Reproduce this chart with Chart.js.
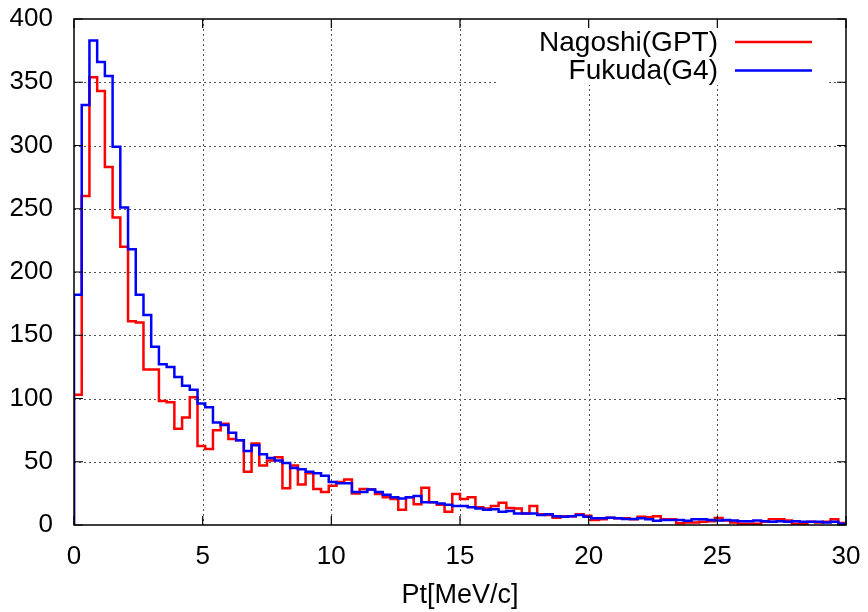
<!DOCTYPE html>
<html><head><meta charset="utf-8">
<script src="https://cdn.jsdelivr.net/npm/chart.js@4.4.1/dist/chart.umd.min.js"></script>
<style>html,body{margin:0;padding:0;background:#fff}#wrap{width:868px;height:612px;position:relative}</style>
</head><body><div id="wrap"><canvas id="c" width="868" height="612"></canvas></div>
<script>
// ---- data (histogram, bin width 0.3 MeV/c, bins start at 0) ----
const binWidth = 0.3;
const seriesNames = ['Nagoshi(GPT)', 'Fukuda(G4)'];
const nagoshi = [
  103, 260, 354, 343, 283, 243, 220, 161, 160, 123,
  123, 98, 97, 76, 85, 101, 62.5, 60, 75, 80,
  68, 67, 42, 64.5, 47, 51, 53.5, 29, 47, 32,
  41, 28.5, 26, 31, 34, 36, 25, 28.5, 28, 24.5,
  22, 20.5, 12, 22, 16.4, 29.5, 18, 16, 10.5, 24.5,
  20.5, 22, 14, 13, 15, 17.5, 13.5, 13, 9, 15,
  8.4, 7.9, 5.8, 7, 7, 8.4, 7.4, 4, 4.5, 5.8,
  5.3, 5.3, 4.5, 6.6, 6.1, 7, 4.5, 4.5, 1.3, 2,
  2, 2.5, 3, 5.5, 3.5, 2, 1, 1, 1, 2.5,
  4.5, 4.5, 3.5, 1, 1, 2.5, 2, 2.5, 4.5, 1.5
];
const fukuda = [
  182, 332, 383, 366, 355, 299, 251, 218, 182, 166,
  141, 127, 125, 117, 110, 107, 96, 93, 81, 79,
  73, 67, 58.5, 63, 56, 53, 51, 49, 45, 44,
  42, 41, 39, 34, 33, 33, 26, 26, 28, 26,
  24, 22, 21, 22, 23, 18, 18, 17, 16, 15,
  15, 14, 13, 12, 12.5, 10.5, 11, 9, 9, 9,
  8, 8.5, 7, 6.5, 7, 8, 6.6, 5.3, 5.3, 5.8,
  5.3, 4.8, 4.8, 5.3, 4.5, 3.4, 4, 4, 4, 3.4,
  4.5, 4.5, 4, 3.5, 4, 3.5, 3, 3, 3.5, 3,
  2.5, 3, 2.5, 3, 2.5, 2.5, 2.5, 2, 2.5, 1
];
const xTickValues = [0, 5, 10, 15, 20, 25, 30];
const yTickValues = [0, 50, 100, 150, 200, 250, 300, 350, 400];
const xTitle = 'Pt[MeV/c]';

function toSteps(vals) {
  const pts = [{x: 0, y: 0}];
  vals.forEach((v, i) => pts.push({x: i * binWidth, y: v}));
  pts.push({x: vals.length * binWidth, y: vals[vals.length - 1]});
  return pts;
}

const FONT = '"Liberation Sans", Arial, sans-serif';

const framePlugin = {
  id: 'gnuplotFrame',
  beforeDatasetsDraw(chart) {
    const {ctx, chartArea: a, scales: {x, y}} = chart;
    ctx.save();
    ctx.strokeStyle = '#555';
    ctx.lineWidth = 1;
    ctx.setLineDash([2, 3]);
    xTickValues.slice(1, -1).forEach(v => {
      const px = Math.round(x.getPixelForValue(v)) + 0.5;
      ctx.beginPath(); ctx.moveTo(px, a.top); ctx.lineTo(px, a.bottom); ctx.stroke();
    });
    yTickValues.slice(1, -1).forEach(v => {
      const py = Math.round(y.getPixelForValue(v)) + 0.5;
      ctx.beginPath(); ctx.moveTo(a.left, py); ctx.lineTo(a.right, py); ctx.stroke();
    });
    ctx.setLineDash([]);
    ctx.fillStyle = '#fff';
    ctx.fillRect(a.right - 349, a.top, 331, 66);
    ctx.restore();
  },
  afterDatasetsDraw(chart) {
    const {ctx, chartArea: a, scales: {x, y}} = chart;
    ctx.save();
    ctx.strokeStyle = '#000';
    ctx.lineWidth = 1.5;
    ctx.strokeRect(a.left, a.top, a.right - a.left, a.bottom - a.top);
    ctx.lineWidth = 1.2;
    const tl = 9;
    xTickValues.forEach(v => {
      const px = x.getPixelForValue(v);
      ctx.beginPath();
      ctx.moveTo(px, a.bottom); ctx.lineTo(px, a.bottom - tl);
      ctx.moveTo(px, a.top); ctx.lineTo(px, a.top + tl);
      ctx.stroke();
    });
    yTickValues.forEach(v => {
      const py = y.getPixelForValue(v);
      ctx.beginPath();
      ctx.moveTo(a.left, py); ctx.lineTo(a.left + tl, py);
      ctx.moveTo(a.right, py); ctx.lineTo(a.right - tl, py);
      ctx.stroke();
    });
    ctx.font = '28px ' + FONT;
    ctx.textAlign = 'right';
    ctx.textBaseline = 'middle';
    chart.data.datasets.forEach((ds, i) => {
      const ly = a.top + 23 + i * 28.4;
      ctx.fillStyle = '#000';
      ctx.fillText(ds.label, a.right - 128, ly + 1);
      ctx.strokeStyle = ds.borderColor;
      ctx.lineWidth = 2.5;
      ctx.beginPath(); ctx.moveTo(a.right - 111, ly); ctx.lineTo(a.right - 34, ly); ctx.stroke();
    });
    ctx.restore();
  }
};

new Chart(document.getElementById('c'), {
  type: 'line',
  data: {
    datasets: [
      {label: seriesNames[0], data: toSteps(nagoshi), borderColor: '#ff0000', borderWidth: 2.5,
       stepped: true, pointRadius: 0, fill: false, order: 1},
      {label: seriesNames[1], data: toSteps(fukuda), borderColor: '#0000ff', borderWidth: 2.5,
       stepped: true, pointRadius: 0, fill: false, order: 0}
    ]
  },
  options: {
    responsive: false,
    animation: false,
    devicePixelRatio: 1,
    layout: {padding: {left: 0, right: 22, top: 19, bottom: 0}},
    plugins: {legend: {display: false}, tooltip: {enabled: false}},
    scales: {
      x: {
        type: 'linear', min: 0, max: 30,
        afterBuildTicks: s => { s.ticks = xTickValues.map(v => ({value: v})); },
        afterFit: s => { s.height = 87; s.paddingLeft = 0; s.paddingRight = 0; },
        grid: {display: false, drawTicks: false},
        border: {display: false},
        ticks: {color: '#000', padding: 16, maxRotation: 0, font: {family: FONT, size: 26}},
        title: {display: true, text: xTitle, color: '#000', font: {family: FONT, size: 27}, padding: {top: 0, bottom: 0}}
      },
      y: {
        type: 'linear', min: 0, max: 400,
        afterBuildTicks: s => { s.ticks = yTickValues.map(v => ({value: v})); },
        afterFit: s => { s.width = 74; s.paddingTop = 0; s.paddingBottom = 0; },
        grid: {display: false, drawTicks: false},
        border: {display: false},
        ticks: {color: '#000', padding: 21, font: {family: FONT, size: 26}}
      }
    }
  },
  plugins: [framePlugin]
});
</script>
</body></html>
